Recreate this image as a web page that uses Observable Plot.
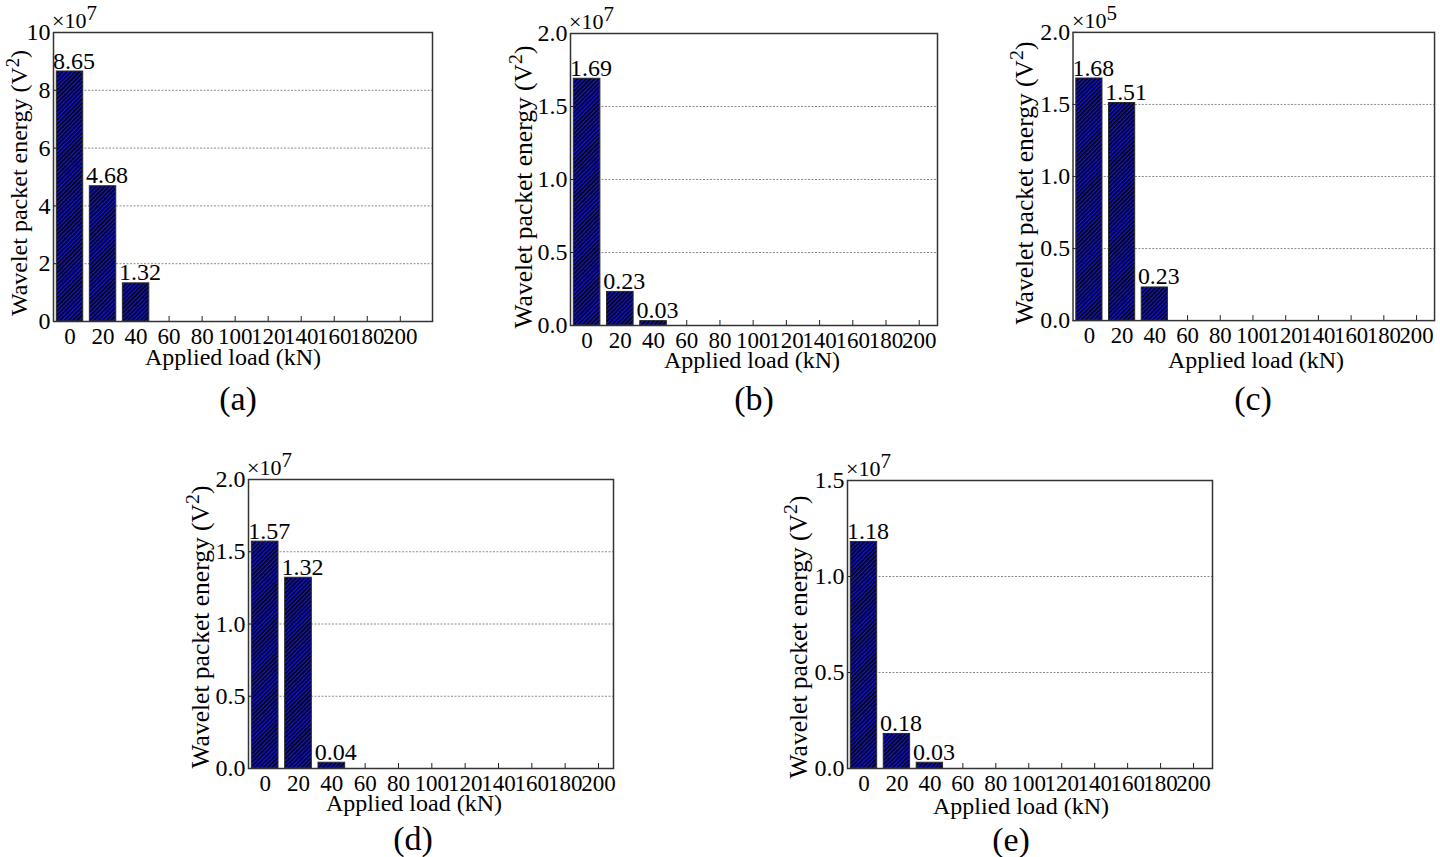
<!DOCTYPE html>
<html>
<head>
<meta charset="utf-8">
<script src="https://cdn.jsdelivr.net/npm/d3@7"></script>
<script src="https://cdn.jsdelivr.net/npm/@observablehq/plot@0.6"></script>
<style>
  html, body { margin: 0; padding: 0; background: #fff; overflow: hidden; }
  #fig { position: relative; width: 1440px; height: 857px; font-family: 'Liberation Serif', 'Times New Roman', serif; }
  #fig > div.panel { position: absolute; }
  #overlay { position: absolute; left: 0; top: 0; pointer-events: none; }
</style>
</head>
<body>
<svg width="0" height="0" style="position:absolute">
  <defs>
    <pattern id="hatch" patternUnits="userSpaceOnUse" width="3" height="3" patternTransform="rotate(45)">
      <rect width="3" height="3" fill="#1414d6"></rect>
      <line x1="0.75" y1="0" x2="0.75" y2="3" stroke="#000" stroke-width="1.6"></line>
    </pattern>
  </defs>
</svg>
<div id="fig"></div>
<script>
// ---- data ----
const xTickLoads = [0, 20, 40, 60, 80, 100, 120, 140, 160, 180, 200];
const barLoads = [0, 20, 40];
const energyA = [8.65, 4.68, 1.32];
const energyB = [1.69, 0.23, 0.03];
const energyC = [1.68, 1.51, 0.23];
const energyD = [1.57, 1.32, 0.04];
const energyE = [1.18, 0.18, 0.03];
const yTicksA = [0, 2, 4, 6, 8, 10];
const yTicksBCD = [0, 0.5, 1.0, 1.5, 2.0];
const yTicksE = [0, 0.5, 1.0, 1.5];
const exponents = ["7", "7", "5", "7", "7"];
const panelLetters = ["(a)", "(b)", "(c)", "(d)", "(e)"];
const xLabel = "Applied load (kN)";
const yLabel = "Wavelet packet energy (V";

// ---- layout (frame boxes in page pixels) ----
const panels = [
  {values: energyA, yTicks: yTicksA, yMax: 10, fmt: d => String(d), xDomain: [-10, 219.5],
   frame: {l: 53, t: 32, r: 432, b: 321}, ylab: [19, 183], ylabSize: 24, xlab: [233, 357], letter: [238, 398]},
  {values: energyB, yTicks: yTicksBCD, yMax: 2, fmt: d => d.toFixed(1), xDomain: [-10, 211],
   frame: {l: 570, t: 33, r: 937, b: 325}, ylab: [523, 187], ylabSize: 25.5, xlab: [752, 360], letter: [754, 398]},
  {values: energyC, yTicks: yTicksBCD, yMax: 2, fmt: d => d.toFixed(1), xDomain: [-10, 211],
   frame: {l: 1073, t: 32, r: 1438, b: 323}, ylab: [1024, 183], ylabSize: 25.5, xlab: [1256, 360], letter: [1253, 398]},
  {values: energyD, yTicks: yTicksBCD, yMax: 2, fmt: d => d.toFixed(1), xDomain: [-10, 209],
   frame: {l: 248, t: 479, r: 613, b: 768}, ylab: [200, 627], ylabSize: 25.5, xlab: [414, 803], letter: [413, 838]},
  {values: energyE, yTicks: yTicksE, yMax: 1.5, fmt: d => d.toFixed(1), xDomain: [-10, 211.5],
   frame: {l: 847, t: 480, r: 1212, b: 768}, ylab: [798, 637], ylabSize: 25.5, xlab: [1021, 806], letter: [1011, 839]}
];

const fig = document.getElementById("fig");
const FONT = "'Liberation Serif', 'Times New Roman', serif";
const FS = 24;
const mL = 50, mT = 12, mR = 6, mB = 30;

panels.forEach((p, i) => {
  const data = barLoads.map((load, j) => ({load, value: p.values[j]}));
  const f = p.frame;
  const chart = Plot.plot({
    width: (f.r - f.l) + mL + mR,
    height: (f.b - f.t) + mT + mB,
    marginLeft: mL, marginRight: mR, marginTop: mT, marginBottom: mB,
    style: {fontFamily: FONT, fontSize: FS + "px", color: "#000", background: "transparent", overflow: "visible"},
    x: {type: "linear", domain: p.xDomain},
    y: {domain: [0, p.yMax]},
    marks: [
      Plot.gridY(p.yTicks.filter(t => t > 0 && t < p.yMax), {stroke: "#8a8a8a", strokeOpacity: 1, strokeWidth: 1, strokeDasharray: "2,1.5"}),
      Plot.axisX(xTickLoads, {tickSize: 5, dy: -5, text: null, label: null, stroke: "#222"}),
      Plot.axisY(p.yTicks, {tickSize: 5, dx: 5, text: null, label: null, stroke: "#222"}),
      Plot.rectY(data, {x1: d => d.load - 8, x2: d => d.load + 8, y: "value", fill: "url(#hatch)", stroke: "#2a2a2a", strokeWidth: 1}),
      Plot.text(data, {x: "load", y: "value", text: d => d.value.toFixed(2), lineAnchor: "bottom", dy: -3, dx: 4, fontSize: FS, fill: "#000"}),
      Plot.axisX(xTickLoads, {tickSize: 0, tickPadding: 6, tickFormat: d => String(d), label: null, fontSize: 23}),
      Plot.axisY(p.yTicks, {tickSize: 0, tickPadding: 3, tickFormat: p.fmt, label: null, fontSize: FS}),
      Plot.frame({stroke: "#333", strokeWidth: 1.5})
    ]
  });
  const wrap = document.createElement("div");
  wrap.className = "panel";
  wrap.style.left = (f.l - mL) + "px";
  wrap.style.top = (f.t - mT) + "px";
  wrap.appendChild(chart);
  fig.appendChild(wrap);
});

// ---- text overlay: axis titles, exponents, panel letters ----
const ov = d3.select(fig).append("svg").attr("id", "overlay")
  .attr("width", 1440).attr("height", 857)
  .style("font-family", FONT).attr("fill", "#000");

panels.forEach((p, i) => {
  const f = p.frame;
  // exponent
  const ex = ov.append("text").attr("x", f.l - 1).attr("y", f.t - 4).attr("font-size", 22);
  ex.append("tspan").text("×10");
  ex.append("tspan").attr("dy", -8).attr("font-size", 21).text(exponents[i]);
  // y label
  const s = p.ylabSize;
  const yl = ov.append("text")
    .attr("transform", `translate(${p.ylab[0]},${p.ylab[1]}) rotate(-90)`)
    .attr("text-anchor", "middle").attr("dominant-baseline", "central").attr("font-size", s);
  yl.append("tspan").text(yLabel);
  yl.append("tspan").attr("dy", -s * 0.3).attr("font-size", s * 0.78).text("2");
  yl.append("tspan").attr("dy", s * 0.3).text(")");
  // x label
  ov.append("text").attr("x", p.xlab[0]).attr("y", p.xlab[1])
    .attr("text-anchor", "middle").attr("dominant-baseline", "central").attr("font-size", FS)
    .text(xLabel);
  // panel letter
  ov.append("text").attr("x", p.letter[0]).attr("y", p.letter[1])
    .attr("text-anchor", "middle").attr("dominant-baseline", "central").attr("font-size", 34)
    .text(panelLetters[i]);
});
</script>
</body>
</html>
